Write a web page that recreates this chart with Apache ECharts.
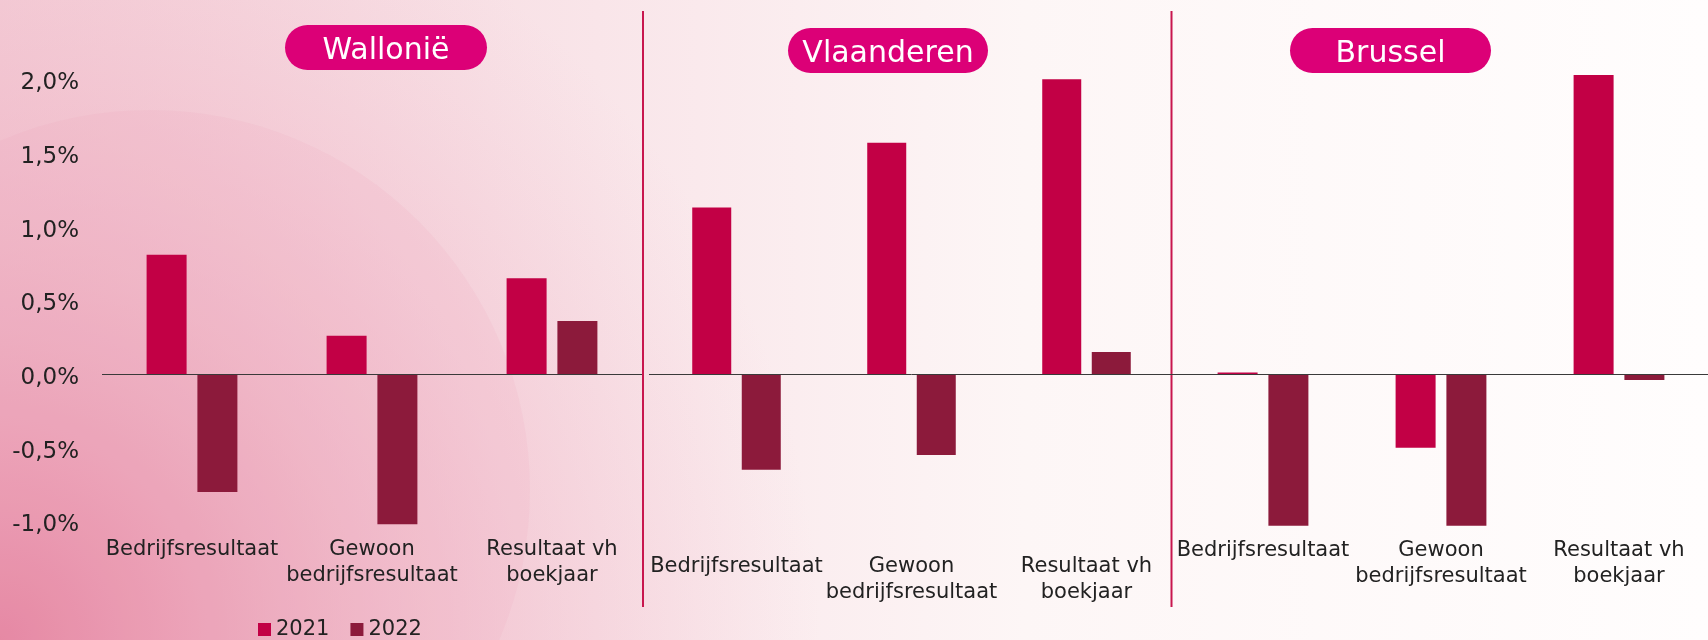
<!DOCTYPE html>
<html>
<head>
<meta charset="UTF-8">
<title></title>
<style>
  html, body { margin: 0; padding: 0; }
  #myChart { width: 1708px; height: 640px; }
</style>
</head>
<body>
<div id="myChart"></div>
<script src="https://cdn.jsdelivr.net/npm/echarts@6/dist/echarts.min.js"></script>
<script>
// data (percent)
var categories = ['Bedrijfsresultaat', 'Gewoon\nbedrijfsresultaat', 'Resultaat vh\nboekjaar'];
var regions = ['Wallonië', 'Vlaanderen', 'Brussel'];
var years = ['2021', '2022'];
var wallonie2021 = [0.81, 0.26, 0.65];
var wallonie2022 = [-0.80, -1.02, 0.36];
var vlaanderen2021 = [1.13, 1.57, 2.00];
var vlaanderen2022 = [-0.65, -0.55, 0.15];
var brussel2021 = [0.01, -0.50, 2.03];
var brussel2022 = [-1.03, -1.03, -0.04];
var yMin = -1.0;
var yMax = 2.0;
var yStep = 0.5;

var FONT = 'DejaVu Sans';
var col2021 = '#c20045';
var col2022 = '#8c1a3b';
var pillColor = '#dc0077';
var lineColor = '#c8164e';

var myChart = echarts.init(document.getElementById('myChart'));

var grids = [
  { left: 102, width: 540, top: 79.3, height: 442.1 },
  { left: 649, width: 525, top: 79.3, height: 442.1 },
  { left: 1174, width: 534, top: 79.3, height: 442.1 }
];
var labelMargins = [15, 32, 16];
var barWidths = [40, 39, 40];
var seriesData = [
  [wallonie2021, wallonie2022],
  [vlaanderen2021, vlaanderen2022],
  [brussel2021, brussel2022]
];

var xAxes = [], yAxes = [], series = [];
for (var i = 0; i < 3; i++) {
  xAxes.push({
    type: 'category',
    gridIndex: i,
    data: categories,
    axisLine: { show: false },
    axisTick: { show: false },
    axisLabel: {
      interval: 0,
      margin: labelMargins[i],
      color: '#222',
      fontFamily: FONT,
      fontSize: 21,
      lineHeight: 26,
      verticalAlign: 'top'
    }
  });
  yAxes.push({
    type: 'value',
    gridIndex: i,
    min: yMin,
    max: yMax,
    interval: yStep,
    splitLine: { show: false },
    axisLine: { show: false },
    axisTick: { show: false },
    axisLabel: {
      show: i === 0,
      margin: 23,
      color: '#222',
      fontFamily: FONT,
      fontSize: 23,
      verticalAlign: 'top',
      lineHeight: 8,
      formatter: function(v) { return v.toFixed(1).replace('.', ',') + '%'; }
    }
  });
  for (var k = 0; k < 2; k++) {
    var s = {
      name: years[k],
      type: 'bar',
      xAxisIndex: i,
      yAxisIndex: i,
      data: seriesData[i][k],
      barWidth: barWidths[i],
      barGap: '27%',
      clip: false,
      itemStyle: { color: k === 0 ? col2021 : col2022 }
    };
    if (k === 0) {
      s.markLine = {
        silent: true,
        symbol: 'none',
        label: { show: false },
        lineStyle: { color: '#3a3a3a', width: 1, type: 'solid' },
        data: [{ yAxis: 0 }]
      };
    }
    series.push(s);
  }
}

var pills = [
  { x: 285, y: 25, w: 202 },
  { x: 788, y: 28, w: 200 },
  { x: 1290, y: 28, w: 201 }
];
var graphics = [
  {
    type: 'rect', z: -3, silent: true,
    shape: { x: 0, y: 0, width: 1708, height: 640 },
    style: {
      fill: new echarts.graphic.RadialGradient(0, 640, 820, [
        { offset: 0, color: 'rgba(229,132,160,0.95)' },
        { offset: 0.45, color: 'rgba(236,162,184,0.55)' },
        { offset: 1, color: 'rgba(240,185,202,0)' }
      ], true)
    }
  },
  { type: 'circle', shape: { cx: 150, cy: 490, r: 380 }, style: { fill: 'rgba(236,150,176,0.10)' }, z: -2, silent: true },
  { type: 'line', shape: { x1: 643, y1: 11, x2: 643, y2: 607 }, style: { stroke: lineColor, lineWidth: 2 }, silent: true },
  { type: 'line', shape: { x1: 1171.5, y1: 11, x2: 1171.5, y2: 607 }, style: { stroke: lineColor, lineWidth: 2 }, silent: true }
];
pills.forEach(function(p, idx) {
  graphics.push({
    type: 'rect',
    shape: { x: p.x, y: p.y, width: p.w, height: 45, r: 22.5 },
    style: { fill: pillColor },
    silent: true
  });
  graphics.push({
    type: 'text',
    x: p.x + p.w / 2,
    y: p.y + 26,
    style: {
      text: regions[idx],
      fill: '#fff',
      font: '30px "' + FONT + '"',
      textAlign: 'center',
      textVerticalAlign: 'middle',
      align: 'center',
      verticalAlign: 'middle'
    },
    silent: true
  });
});

myChart.setOption({
  animation: false,
  backgroundColor: new echarts.graphic.LinearGradient(0, 0, 1, 0, [
    { offset: 0, color: '#f4cfd8' },
    { offset: 0.35, color: '#f9e5e9' },
    { offset: 0.6, color: '#fdf6f6' },
    { offset: 1, color: '#fffdfd' }
  ]),
  legend: {
    data: years,
    left: 258,
    top: 619,
    padding: 0,
    icon: 'rect',
    itemWidth: 13,
    itemHeight: 13,
    itemGap: 21,
    textStyle: { color: '#222', fontFamily: FONT, fontSize: 21 }
  },
  grid: grids,
  xAxis: xAxes,
  yAxis: yAxes,
  graphic: graphics,
  series: series
});
</script>
</body>
</html>
